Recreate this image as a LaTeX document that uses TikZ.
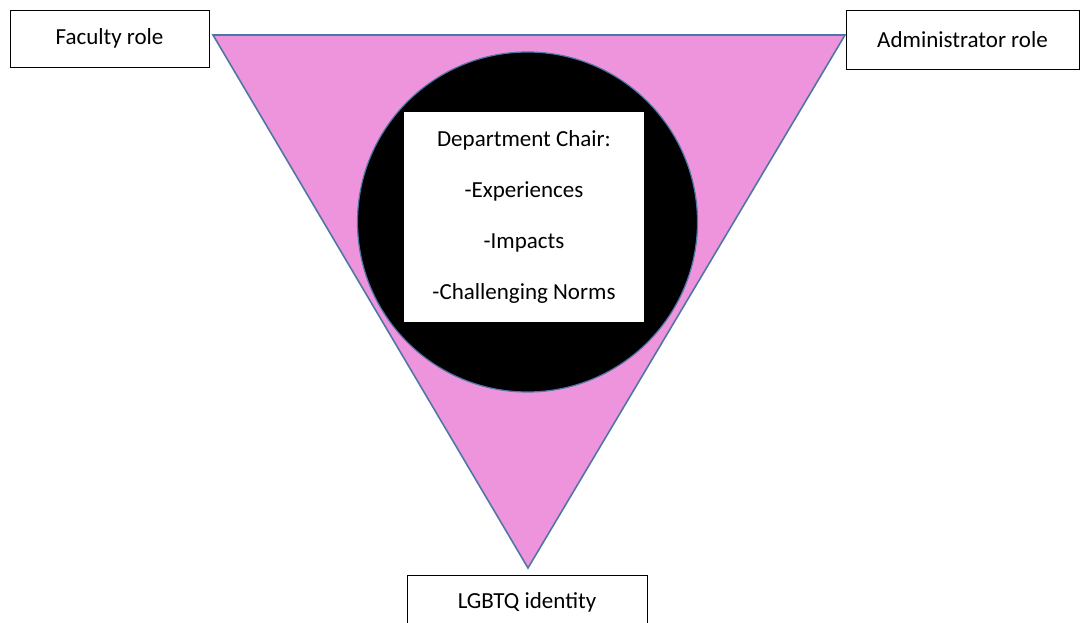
\documentclass[tikz,border=0pt]{standalone}
\usepackage{fontspec}
\setmainfont{Carlito}
\definecolor{pinkfill}{RGB}{238,148,220}
\definecolor{edgeblue}{RGB}{79,119,166}
\tikzset{
  rolebox/.style={draw=black,fill=white,thick,rectangle,font=\fontsize{23}{27}\selectfont},
}
\begin{document}
\begin{tikzpicture}[x=1pt,y=-1pt]
\useasboundingbox (0,0) rectangle (1080,623);
% corners of the triangle
\coordinate (tl) at (213,35);
\coordinate (tr) at (845,35);
\coordinate (bot) at (528,568);
\filldraw[fill=pinkfill,draw=edgeblue,line width=1.6pt,line join=miter] (tl) -- (tr) -- (bot) -- cycle;
\filldraw[fill=black,draw=edgeblue,line width=1.2pt] (527.5,222) circle (170);
\node[fill=white,minimum width=240,minimum height=210,align=center,
      font=\fontsize{23}{51}\selectfont] (chair) at (524,217)
  {Department Chair:\\-Experiences\\-Impacts\\-Challenging Norms};
\node[rolebox,minimum width=199,minimum height=57] (faculty) at (109.5,38.5) {Faculty role};
\node[rolebox,minimum width=233,minimum height=59] (admin) at (962.5,39.5) {Administrator role};
\node[rolebox,minimum width=240,minimum height=54] (lgbtq) at (527,602) {LGBTQ identity};
\end{tikzpicture}
\end{document}
